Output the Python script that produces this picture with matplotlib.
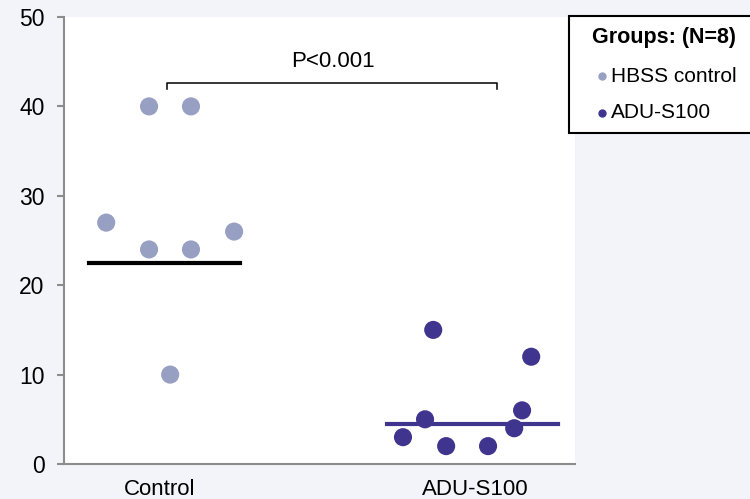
import numpy as np
import matplotlib.pyplot as plt
from matplotlib.patches import Rectangle

plt.rcParams['font.family'] = ['Liberation Sans', 'DejaVu Sans']

categories = ['Control', 'ADU-S100']
control_vals = [27, 40, 24, 10, 40, 24, 26]
control_jitter = [-0.171, -0.035, -0.035, 0.032, 0.098, 0.098, 0.235]
adu_vals = [3, 5, 15, 2, 2, 4, 6, 12]
adu_jitter = [-0.229, -0.159, -0.133, -0.092, 0.041, 0.124, 0.149, 0.178]
center_lines = [22.5, 4.45]
p_text = 'P<0.001'
legend_title = 'Groups: (N=8)'
legend_labels = ['HBSS control', 'ADU-S100']

c_ctrl = '#979fc3'
c_adu = '#3f358f'
bg = '#f2f4f9'
W, H = 750, 499

fig = plt.figure(figsize=(7.5, 4.99), dpi=100, facecolor=bg)
ax = fig.add_axes([64/W, 1-464/H, (575-64)/W, (464-17)/H])
ax.set_facecolor('white')

ax.scatter(np.zeros(len(control_vals)) + control_jitter, control_vals,
           s=170, color=c_ctrl, edgecolor='none', zorder=3)
ax.scatter(np.ones(len(adu_vals)) + adu_jitter, adu_vals,
           s=170, color=c_adu, edgecolor='none', zorder=3)

ax.plot([-0.225, 0.254], [center_lines[0]] * 2, color='black', lw=3, zorder=2)
ax.plot([1 - 0.279, 1 + 0.263], [center_lines[1]] * 2, color=c_adu, lw=3, zorder=2)

# significance bracket
ax.plot([0.022, 0.022, 1.07, 1.07], [41.9, 42.6, 42.6, 41.9], color='black', lw=1.1)
ax.text(0.549, 45.0, p_text, ha='center', va='center', fontsize=16)

ax.set_xlim(-0.305, 1.317)
ax.set_ylim(0, 50)
ax.set_yticks(range(0, 51, 10))
ax.set_xticks([0, 1])
ax.set_xticklabels(categories, fontsize=16)
ax.tick_params(axis='y', labelsize=16.5, length=5, width=1.5, color='#8c8c8c', pad=9)
ax.tick_params(axis='x', length=0, pad=11)
for s in ['top', 'right']:
    ax.spines[s].set_visible(False)
for s in ['left', 'bottom']:
    ax.spines[s].set_color('#8c8c8c')
    ax.spines[s].set_linewidth(1.5)

# legend box, drawn in figure pixels
px = lambda x, y: (x / W, 1 - y / H)
fig.patches.append(Rectangle(px(569, 133), 200 / W, 117 / H, transform=fig.transFigure,
                             facecolor='white', edgecolor='black', lw=1.5))
fig.text(*px(664, 37), legend_title, ha='center', va='center',
         fontsize=15.5, fontweight='bold')
for (lab, col, y) in zip(legend_labels, [c_ctrl, c_adu], [76, 113]):
    fig.lines.append(plt.Line2D([602 / W], [1 - y / H], marker='o', ls='none',
                                color=col, markersize=5, transform=fig.transFigure))
    fig.text(*px(611, y), lab, ha='left', va='center', fontsize=15)

fig.savefig('out.png', dpi=100, facecolor=bg)
